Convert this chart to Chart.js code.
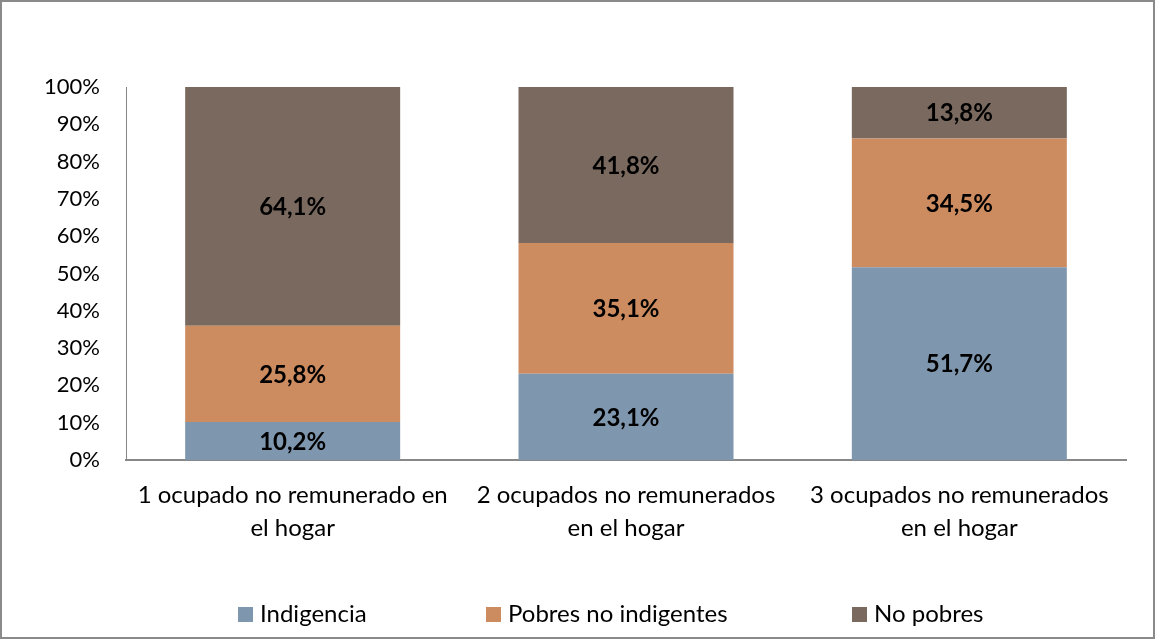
<!DOCTYPE html>
<html>
<head>
<meta charset="utf-8">
<script src="https://cdn.jsdelivr.net/npm/chart.js@4"></script>
<style>
  html, body { margin: 0; padding: 0; background: #fff; }
  #wrap { width: 1155px; height: 639px; position: relative; }
</style>
</head>
<body>
<div id="wrap"><canvas id="chart"></canvas></div>
<script>
// data
const categories = [
    ['1 ocupado no remunerado en', 'el hogar'],
    ['2 ocupados no remunerados', 'en el hogar'],
    ['3 ocupados no remunerados', 'en el hogar']
];
const seriesNames = ['Indigencia', 'Pobres no indigentes', 'No pobres'];
const indigencia = [10.2, 23.1, 51.7];
const pobresNoIndigentes = [25.8, 35.1, 34.5];
const noPobres = [64.1, 41.8, 13.8];
const yTicks = [0, 10, 20, 30, 40, 50, 60, 70, 80, 90, 100];
const colors = ['#7F97AE', '#CC8C60', '#7A695E'];

const FONT = 'Lato, "Noto Sans", sans-serif';

// outer frame
const framePlugin = {
    id: 'frame',
    beforeDraw(chart) {
        const ctx = chart.ctx;
        ctx.save();
        ctx.fillStyle = '#fff';
        ctx.fillRect(0, 0, chart.width, chart.height);
        ctx.strokeStyle = '#8a8a8a';
        ctx.lineWidth = 2;
        ctx.strokeRect(1, 1, chart.width - 2, chart.height - 2);
        ctx.restore();
    }
};

// value labels inside segments
const valueLabels = {
    id: 'valueLabels',
    afterDatasetsDraw(chart) {
        const ctx = chart.ctx;
        ctx.save();
        ctx.font = 'bold 24px ' + FONT;
        ctx.fillStyle = '#000';
        ctx.textAlign = 'center';
        ctx.textBaseline = 'middle';
        chart.data.datasets.forEach((ds, i) => {
            chart.getDatasetMeta(i).data.forEach((bar, j) => {
                const y = (bar.y + bar.base) / 2;
                ctx.fillText(ds.data[j].toFixed(1).replace('.', ',') + '%', bar.x, y + 1);
            });
        });
        ctx.restore();
    }
};

// legend at the bottom, shifted like the original
const bottomLegend = {
    id: 'bottomLegend',
    afterDraw(chart) {
        const ctx = chart.ctx;
        const starts = [238, 486, 852];
        const y = 614;
        ctx.save();
        ctx.font = '24px ' + FONT;
        ctx.textBaseline = 'middle';
        ctx.textAlign = 'left';
        chart.data.datasets.forEach((ds, i) => {
            ctx.fillStyle = ds.backgroundColor;
            ctx.fillRect(starts[i], y - 7, 15, 15);
            ctx.fillStyle = '#000';
            ctx.fillText(ds.label, starts[i] + 22, y);
        });
        ctx.restore();
    }
};

new Chart(document.getElementById('chart'), {
    type: 'bar',
    data: {
        labels: categories,
        datasets: [
            { label: seriesNames[0], data: indigencia, backgroundColor: colors[0] },
            { label: seriesNames[1], data: pobresNoIndigentes, backgroundColor: colors[1] },
            { label: seriesNames[2], data: noPobres, backgroundColor: colors[2] }
        ]
    },
    options: {
        responsive: true,
        maintainAspectRatio: false,
        animation: false,
        layout: { padding: { top: 87, right: 29, left: 0, bottom: 79 } },
        datasets: { bar: { categoryPercentage: 1, barPercentage: 0.645, borderWidth: 0 } },
        plugins: {
            legend: { display: false },
            tooltip: { enabled: false }
        },
        scales: {
            x: {
                stacked: true,
                grid: { display: false, drawTicks: false },
                border: { color: '#888', width: 2 },
                ticks: { color: '#000', font: { family: FONT, size: 24, lineHeight: 1.38 }, padding: 19, maxRotation: 0 },
                afterFit(s) { s.height = 100; }
            },
            y: {
                stacked: true,
                min: 0,
                max: 100,
                grid: { display: false, drawTicks: false },
                border: { color: '#888', width: 1 },
                afterBuildTicks(s) { s.ticks = yTicks.map(v => ({ value: v })); },
                afterFit(s) { s.width = 126; },
                ticks: {
                    color: '#000',
                    padding: 26,
                    font: { family: FONT, size: 22 },
                    callback: v => v + '%'
                }
            }
        }
    },
    plugins: [framePlugin, valueLabels, bottomLegend]
});
</script>
</body>
</html>
